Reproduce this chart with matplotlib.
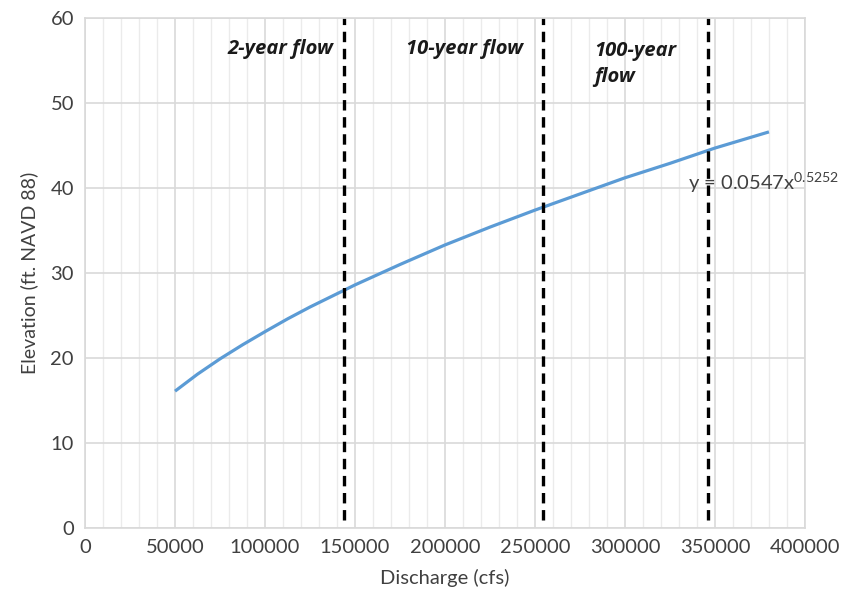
import numpy as np
import matplotlib.pyplot as plt

# discharge (cfs) and elevation (ft)
discharge = [50000, 62500, 75000, 87500, 100000, 112500, 125000, 137500, 150000,
             175000, 200000, 225000, 250000, 275000, 300000, 325000, 350000, 380000]
elevation = [16.1, 18.1, 19.9, 21.55, 23.1, 24.6, 26.0, 27.3, 28.6,
             31.0, 33.3, 35.4, 37.4, 39.3, 41.2, 42.9, 44.7, 46.6]

# return-period flows (vertical dashed lines)
flow_names = ['2-year flow', '10-year flow', '100-year\nflow']
flow_values = [144000, 254500, 346000]

plt.rcParams['font.family'] = ['Lato', 'DejaVu Sans']
plt.rcParams['mathtext.fontset'] = 'custom'
plt.rcParams['mathtext.rm'] = 'Lato'
plt.rcParams['lines.scale_dashes'] = False

fig = plt.figure(figsize=(8.42, 6.06), dpi=100)
ax = fig.add_axes([0.101, 0.1287, 0.855, 0.8416])

ax.plot(discharge, elevation, color='#5B9BD5', linewidth=2.3,
        solid_capstyle='butt', solid_joinstyle='round')

for q in flow_values:
    ax.plot([q, q], [1, 60], color='black', linewidth=2.4,
            linestyle=(0, (7.5, 4.8)), dash_capstyle='butt', clip_on=False)

lab = dict(fontsize=14.5, fontweight='bold', fontstyle='italic', color='#1a1a1a',
           family=['Open Sans', 'DejaVu Sans'])
ax.text(137800, 56.4, flow_names[0], ha='right', va='center', **lab)
ax.text(178500, 56.4, flow_names[1], ha='left', va='center', **lab)
ax.text(283000, 54.6, flow_names[2], ha='left', va='center', linespacing=1.35, **lab)

ax.text(335000, 40.6, r'y = 0.0547x$^{\mathregular{0.5252}}$', ha='left', va='center',
        fontsize=14.5, color='#404040', clip_on=False)

ax.set_xlim(0, 400000)
ax.set_ylim(0, 60)
ax.set_xticks(np.arange(0, 400001, 50000))
ax.set_xticks(np.arange(0, 400001, 10000), minor=True)
ax.set_yticks(np.arange(0, 61, 10))
ax.grid(which='major', color='#D9D9D9', linewidth=1.2)
ax.grid(which='minor', axis='x', color='#EBEBEB', linewidth=1.0)
ax.set_axisbelow(True)
for s in ax.spines.values():
    s.set_color('#D9D9D9')
    s.set_linewidth(1.2)
ax.tick_params(which='both', length=0, labelsize=14.5, labelcolor='#404040', pad=8)

ax.set_xlabel('Discharge (cfs)', fontsize=14.5, color='#404040', labelpad=9)
ax.set_ylabel('Elevation (ft. NAVD 88)', fontsize=14, color='#404040', labelpad=9)

fig.savefig('out.png', dpi=100)
